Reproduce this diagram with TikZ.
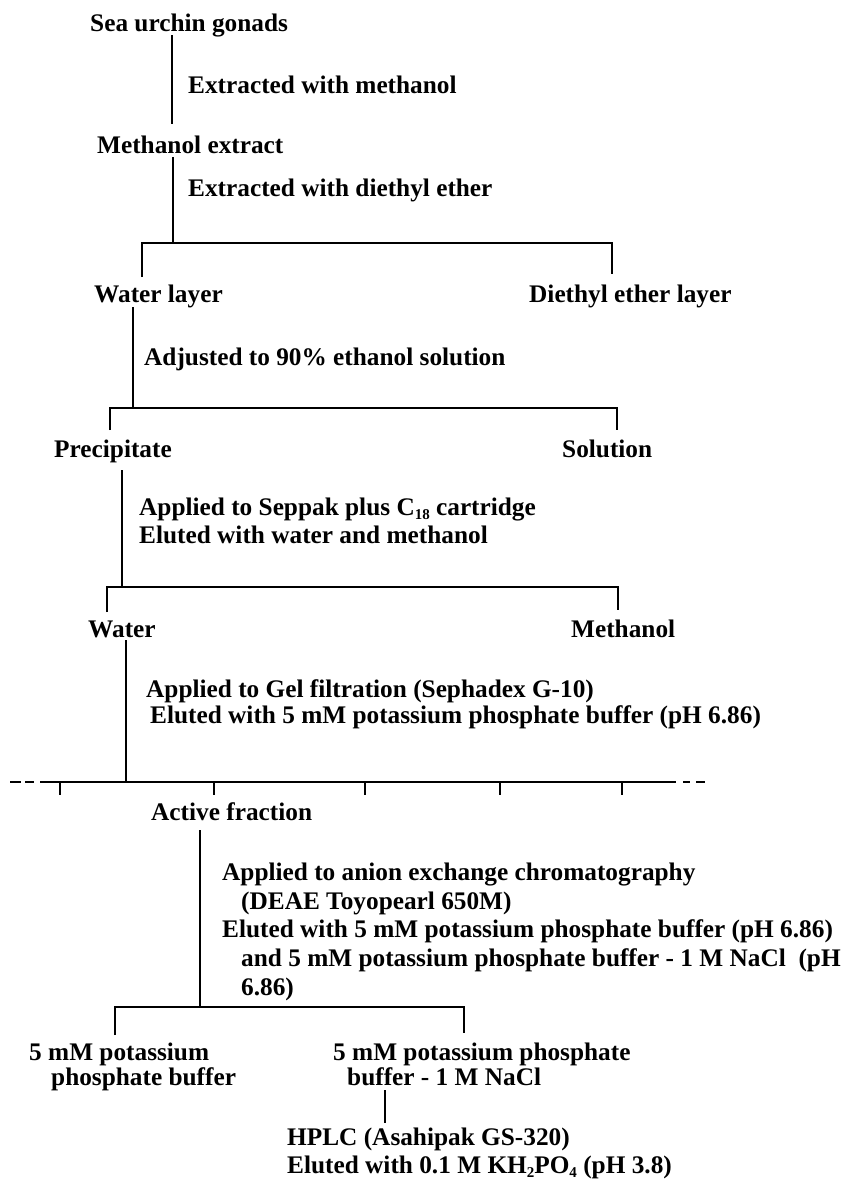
\documentclass[tikz,border=0pt]{standalone}
\usepackage{fontspec}
\setmainfont{Liberation Serif}
\newcommand{\lowtxt}[1]{\raisebox{-4pt}{\fontsize{15}{15}\selectfont #1}}
\tikzset{
  lbl/.style={anchor=base west, inner sep=0pt, font=\fontsize{25.3}{28}\selectfont\bfseries},
  ln/.style={line width=1.8pt, line join=miter},
}
\begin{document}
\begin{tikzpicture}[x=1pt,y=-1pt]
\fill[white] (0,0) rectangle (845,1183);
\useasboundingbox (0,0) rectangle (845,1183);

% texts
\node[lbl] (t1) at (90,31) {Sea urchin gonads};
\node[lbl] (e1) at (188,93) {Extracted with methanol};
\node[lbl] (t2) at (97,153) {Methanol extract};
\node[lbl] (e2) at (188,196) {Extracted with diethyl ether};
\node[lbl] (t3) at (94,302) {Water layer};
\node[lbl] (t4) at (529,302) {Diethyl ether layer};
\node[lbl] (e3) at (144,365) {Adjusted to 90\% ethanol solution};
\node[lbl] (t5) at (54,457) {Precipitate};
\node[lbl] (t6) at (562,457) {Solution};
\node[lbl] (e4a) at (139,515) {Applied to Seppak plus C\lowtxt{18} cartridge};
\node[lbl] (e4b) at (139,543) {Eluted with water and methanol};
\node[lbl] (t7) at (88,637) {Water};
\node[lbl] (t8) at (571,637) {Methanol};
\node[lbl] (e5a) at (146,697) {Applied to Gel filtration (Sephadex G-10)};
\node[lbl] (e5b) at (150,723) {Eluted with 5 mM potassium phosphate buffer (pH 6.86)};
\node[lbl] (t9) at (151,820) {Active fraction};
\node[lbl] (e6a) at (222,880) {Applied to anion exchange chromatography};
\node[lbl] (e6b) at (241,909) {(DEAE Toyopearl 650M)};
\node[lbl] (e6c) at (222,937) {Eluted with 5 mM potassium phosphate buffer (pH 6.86)};
\node[lbl] (e6d) at (241,966) {and 5 mM potassium phosphate buffer - 1 M NaCl\ \ (pH};
\node[lbl] (e6e) at (241,995) {6.86)};
\node[lbl] (t10a) at (29,1060) {5 mM potassium};
\node[lbl] (t10b) at (51,1085) {phosphate buffer};
\node[lbl] (t11a) at (333,1060) {5 mM potassium phosphate};
\node[lbl] (t11b) at (347,1085) {buffer - 1 M NaCl};
\node[lbl] (e7a) at (287,1145) {HPLC (Asahipak GS-320)};
\node[lbl] (e7b) at (287,1173) {Eluted with 0.1 M KH\lowtxt{2}PO\lowtxt{4} (pH 3.8)};

% connector points
\coordinate (s1a) at (172,35);  \coordinate (s1b) at (172,124);
\coordinate (s2a) at (173,157); \coordinate (s2b) at (173,243);
\coordinate (b1l) at (142,243); \coordinate (b1r) at (612,243);
\coordinate (d1l) at (142,277); \coordinate (d1r) at (612,274);
\coordinate (s3a) at (133,307); \coordinate (s3b) at (133,408);
\coordinate (b2l) at (110,408); \coordinate (b2r) at (617,408);
\coordinate (d2l) at (110,430); \coordinate (d2r) at (617,430);
\coordinate (s4a) at (122,470); \coordinate (s4b) at (122,587);
\coordinate (b3l) at (107,587); \coordinate (b3r) at (618,587);
\coordinate (d3l) at (107,612); \coordinate (d3r) at (618,610);
\coordinate (s5a) at (126,640); \coordinate (s5b) at (126,782);
\coordinate (b4l) at (40,782);  \coordinate (b4r) at (676,782);
\coordinate (s6a) at (200,830); \coordinate (s6b) at (200,1007);
\coordinate (b5l) at (115,1007); \coordinate (b5r) at (464,1007);
\coordinate (d5l) at (115,1035); \coordinate (d5r) at (464,1033);
\coordinate (s7a) at (385,1090); \coordinate (s7b) at (385,1123);

% connectors
\draw[ln] (s1a) -- (s1b);
\draw[ln] (s2a) -- (s2b);
\draw[ln] (d1l) -- (b1l) -- (b1r) -- (d1r);
\draw[ln] (s3a) -- (s3b);
\draw[ln] (d2l) -- (b2l) -- (b2r) -- (d2r);
\draw[ln] (s4a) -- (s4b);
\draw[ln] (d3l) -- (b3l) -- (b3r) -- (d3r);
\draw[ln] (s5a) -- (s5b);
% fraction collector line
\draw[ln] (b4l) -- (b4r);
\draw[ln] (10,782) -- (21,782);
\draw[ln] (25,782) -- (34,782);
\draw[ln] (683,782) -- (690,782);
\draw[ln] (696,782) -- (705,782);
\foreach \xx in {60,214,365,500,622}
  \draw[ln] (\xx,782) -- (\xx,795);
\draw[ln] (s6a) -- (s6b);
\draw[ln] (d5l) -- (b5l) -- (b5r) -- (d5r);
\draw[ln] (s7a) -- (s7b);
\end{tikzpicture}
\end{document}
